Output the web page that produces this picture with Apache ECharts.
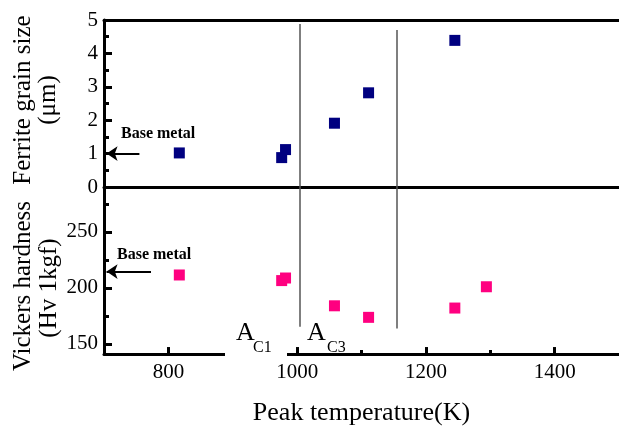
<!DOCTYPE html>
<html>
<head>
<meta charset="utf-8">
<script src="https://cdn.jsdelivr.net/npm/echarts@6/dist/echarts.min.js"></script>
<style>
  html, body { margin: 0; padding: 0; background: #fff; }
  #main { width: 619px; height: 427px; }
</style>
</head>
<body>
<div id="main"></div>
<script>
// 数据
var grainTemp = [817, 976, 982, 1058, 1111, 1245];
var grainSize = [1.02, 0.88, 1.12, 1.91, 2.82, 4.39];
var hardTemp = [817, 976, 982, 1058, 1111, 1245, 1294];
var hardness = [211.5, 206.5, 208.8, 184, 173.7, 182, 201];
var baseGrain = 1.0;
var baseHard = 214.5;
var ac1 = 1004;
var ac3 = 1155;
var xMajor = [800, 1000, 1200, 1400];
var xMinor = [900, 1100, 1300];
var grainMajor = [1, 2, 3, 4];
var grainMinor = [0.5, 1.5, 2.5, 3.5, 4.5];
var hardMajor = [150, 200, 250];
var hardMinor = [175, 225, 275];

var font = "'Liberation Serif', 'Times New Roman', serif";
var X_MIN = 700, X_MAX = 1500;
var H_MIN = 141, H_MAX = 290;

// 每像素对应的数据量（用于刻度长度）
var X_PER_PX = (X_MAX - X_MIN) / 515;
var H_PER_PX = (H_MAX - H_MIN) / 168;

function pairs(xs, ys) {
    return xs.map(function (x, i) { return [x, ys[i]]; });
}
function plain(v) { return String(v); }

function lineOnly(grid, min, max, pos) {
    return {
        type: 'value', gridIndex: grid, min: min, max: max, position: pos,
        axisLine: { show: true, onZero: false, lineStyle: { color: '#000', width: 3 } },
        axisTick: { show: false }, axisLabel: { show: false }, splitLine: { show: false }
    };
}

var tickLine = { color: '#000', width: 3, type: 'solid' };
function yTicks(values, px) {
    return values.map(function (v) {
        return [{ coord: [X_MIN, v], lineStyle: tickLine }, { coord: [X_MIN + px * X_PER_PX, v] }];
    });
}
function xTicks(values, px) {
    return values.map(function (v) {
        return [{ coord: [v, H_MIN], lineStyle: tickLine }, { coord: [v, H_MIN + px * H_PER_PX] }];
    });
}

var myChart = echarts.init(document.getElementById('main'));

var option = {
    backgroundColor: '#fff',
    animation: false,
    grid: [
        { left: 104, right: 0, top: 20, height: 167 },
        { left: 104, right: 0, top: 187, height: 168 }
    ],
    xAxis: [
        lineOnly(0, X_MIN, X_MAX, 'bottom'),
        lineOnly(0, X_MIN, X_MAX, 'top'),
        {
            type: 'value', gridIndex: 1, min: X_MIN, max: X_MAX, position: 'bottom',
            name: 'Peak temperature(K)', nameLocation: 'middle', nameGap: 46,
            nameTextStyle: { color: '#000', fontFamily: font, fontSize: 26 },
            axisLine: { show: true, onZero: false, lineStyle: { color: '#000', width: 3 } },
            axisTick: { show: false },
            axisLabel: { show: true, margin: 8, customValues: xMajor.slice(), formatter: plain, color: '#000', fontFamily: font, fontSize: 21 },
            splitLine: { show: false }
        }
    ],
    yAxis: [
        {
            type: 'value', gridIndex: 0, min: 0, max: 5, interval: 1,
            axisLine: { show: true, onZero: false, lineStyle: { color: '#000', width: 3 } },
            axisTick: { show: false },
            axisLabel: { margin: 6, formatter: plain, color: '#000', fontFamily: font, fontSize: 21 },
            splitLine: { show: false }
        },
        {
            type: 'value', gridIndex: 1, min: H_MIN, max: H_MAX,
            axisLine: { show: true, onZero: false, lineStyle: { color: '#000', width: 3 } },
            axisTick: { show: false },
            axisLabel: { margin: 6, customValues: hardMajor.slice(), formatter: plain, color: '#000', fontFamily: font, fontSize: 21 },
            splitLine: { show: false }
        }
    ],
    series: [
        {
            type: 'scatter', xAxisIndex: 0, yAxisIndex: 0,
            symbol: 'rect', symbolSize: 11,
            itemStyle: { color: '#000080', opacity: 1 },
            data: pairs(grainTemp, grainSize),
            markLine: {
                silent: true, symbol: 'none', label: { show: false },
                lineStyle: { color: '#555', width: 1.5, type: 'solid' },
                data: [
                    [{ coord: [ac1, 4.88] }, { coord: [ac1, 0] }],
                    [{ coord: [ac3, 4.70] }, { coord: [ac3, 0] }]
                ].concat(yTicks(grainMajor, 8), yTicks(grainMinor, 5))
            }
        },
        {
            type: 'scatter', xAxisIndex: 2, yAxisIndex: 1,
            symbol: 'rect', symbolSize: 11,
            itemStyle: { color: '#ff0080', opacity: 1 },
            data: pairs(hardTemp, hardness),
            markLine: {
                silent: true, symbol: 'none', label: { show: false },
                lineStyle: { color: '#555', width: 1.5, type: 'solid' },
                data: [
                    [{ coord: [ac1, H_MAX] }, { coord: [ac1, 165.4] }],
                    [{ coord: [ac3, H_MAX] }, { coord: [ac3, 163.7] }]
                ].concat(yTicks(hardMajor, 8), yTicks(hardMinor, 5),
                         xTicks(xMajor, 7), xTicks(xMinor, 4))
            }
        },
        {   // 母材箭头（上）
            type: 'lines', coordinateSystem: 'cartesian2d', xAxisIndex: 0, yAxisIndex: 0,
            symbol: ['none', 'arrow'], symbolSize: 11,
            lineStyle: { color: '#000', width: 2, opacity: 1 },
            data: [{ coords: [[755, baseGrain], [704, baseGrain]] }]
        },
        {   // 母材箭头（下）
            type: 'lines', coordinateSystem: 'cartesian2d', xAxisIndex: 2, yAxisIndex: 1,
            symbol: ['none', 'arrow'], symbolSize: 11,
            lineStyle: { color: '#000', width: 2, opacity: 1 },
            data: [{ coords: [[773, baseHard], [704, baseHard]] }]
        }
    ],
    graphic: [
        { type: 'rect', z: 100, shape: { x: 225, y: 348, width: 62, height: 11 }, style: { fill: '#fff' } },
        { type: 'text', z: 101, x: 23, y: 100, rotation: Math.PI / 2,
          style: { text: 'Ferrite grain size', font: '25px ' + font, fill: '#000', align: 'center', verticalAlign: 'middle' } },
        { type: 'text', z: 101, x: 48, y: 100, rotation: Math.PI / 2,
          style: { text: '(μm)', font: '25px ' + font, fill: '#000', align: 'center', verticalAlign: 'middle' } },
        { type: 'text', z: 101, x: 23, y: 286, rotation: Math.PI / 2,
          style: { text: 'Vickers hardness', font: '25px ' + font, fill: '#000', align: 'center', verticalAlign: 'middle' } },
        { type: 'text', z: 101, x: 49, y: 288, rotation: Math.PI / 2,
          style: { text: '(Hv 1kgf)', font: '25px ' + font, fill: '#000', align: 'center', verticalAlign: 'middle' } },
        { type: 'text', z: 101, x: 121, y: 134,
          style: { text: 'Base metal', font: 'bold 16px ' + font, fill: '#000', align: 'left', verticalAlign: 'middle' } },
        { type: 'text', z: 101, x: 117, y: 255,
          style: { text: 'Base metal', font: 'bold 16px ' + font, fill: '#000', align: 'left', verticalAlign: 'middle' } },
        { type: 'text', z: 101, x: 236, y: 333,
          style: { text: 'A', font: '26px ' + font, fill: '#000', align: 'left', verticalAlign: 'middle' } },
        { type: 'text', z: 101, x: 253, y: 348,
          style: { text: 'C1', font: '16px ' + font, fill: '#000', align: 'left', verticalAlign: 'middle' } },
        { type: 'text', z: 101, x: 307, y: 333,
          style: { text: 'A', font: '26px ' + font, fill: '#000', align: 'left', verticalAlign: 'middle' } },
        { type: 'text', z: 101, x: 327, y: 348,
          style: { text: 'C3', font: '16px ' + font, fill: '#000', align: 'left', verticalAlign: 'middle' } }
    ]
};

myChart.setOption(option);
</script>
</body>
</html>
